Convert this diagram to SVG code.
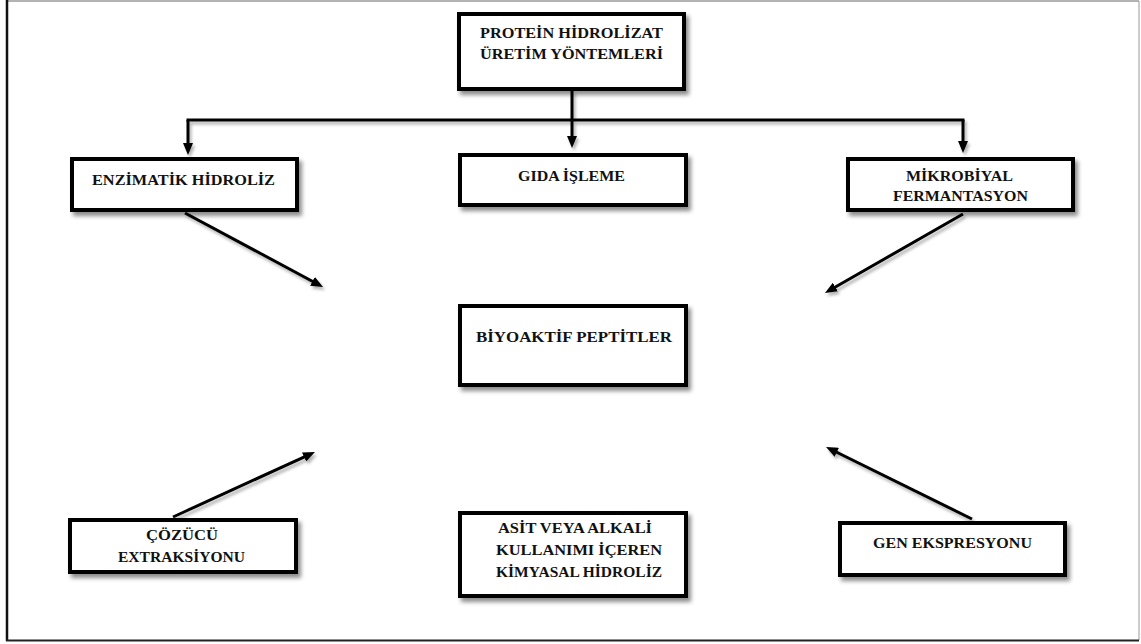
<svg xmlns="http://www.w3.org/2000/svg" width="1141" height="644" viewBox="0 0 1141 644">
<defs>
<filter id="sh" x="-10%" y="-20%" width="130%" height="160%">
<feDropShadow dx="3" dy="4" stdDeviation="2.2" flood-color="#000" flood-opacity="0.45"/>
</filter>
<filter id="lsh" x="-10%" y="-20%" width="130%" height="160%">
<feDropShadow dx="2" dy="3" stdDeviation="1.8" flood-color="#000" flood-opacity="0.3"/>
</filter>
<marker id="ah" viewBox="0 0 12 10" refX="4" refY="5" markerWidth="12" markerHeight="10" markerUnits="userSpaceOnUse" orient="auto">
<path d="M0,0 L12,5 L0,10 z" fill="#000"/>
</marker>
</defs>
<style>
.box{fill:#fff;stroke:#000;stroke-width:4;filter:url(#sh)}
.t{font-family:"Liberation Serif","Times New Roman",serif;font-weight:bold;font-size:15px;fill:#111;text-anchor:middle}
.c{fill:none;stroke:#000;stroke-width:3}
.a{marker-end:url(#ah)}
</style>
<rect width="1141" height="644" fill="#fff"/>
<g id="frame">
<line x1="7" y1="1" x2="1139" y2="1" stroke="#666" stroke-width="1"/>
<line x1="1139" y1="1" x2="1139" y2="640" stroke="#999" stroke-width="1"/>
<line x1="7" y1="0" x2="7" y2="641" stroke="#111" stroke-width="2.5"/>
<line x1="6" y1="640.5" x2="1139" y2="640.5" stroke="#222" stroke-width="2"/>
</g>
<g id="connectors" filter="url(#lsh)">
<path class="c" d="M572,91 V120"/>
<path class="c" d="M186.5,120 H964.5"/>
<path class="c a" d="M188,120 V147"/>
<path class="c a" d="M572,120 V140"/>
<path class="c a" d="M963,120 V145"/>
<path class="c a" d="M185,213 L316,283.2"/>
<path class="c a" d="M963,214 L831.9,289"/>
<path class="c a" d="M173,517 L307.7,455.3"/>
<path class="c a" d="M972,519 L833.2,450.5"/>
</g>
<g id="n-protein">
<rect class="box" x="459" y="14" width="225" height="75"/>
<text class="t" x="571.5" y="38" textLength="183" lengthAdjust="spacingAndGlyphs">PROTEİN HİDROLİZAT</text>
<text class="t" x="571.5" y="59" textLength="183" lengthAdjust="spacingAndGlyphs">ÜRETİM YÖNTEMLERİ</text>
</g>
<g id="n-enzimatik">
<rect class="box" x="72" y="159" width="225" height="51"/>
<text class="t" x="183.5" y="185" textLength="183" lengthAdjust="spacingAndGlyphs">ENZİMATİK HİDROLİZ</text>
</g>
<g id="n-gida">
<rect class="box" x="460" y="155" width="226" height="50"/>
<text class="t" x="571.5" y="181" textLength="107" lengthAdjust="spacingAndGlyphs">GIDA İŞLEME</text>
</g>
<g id="n-mikrobiyal">
<rect class="box" x="848" y="159" width="225" height="51"/>
<text class="t" x="959.5" y="181" textLength="107" lengthAdjust="spacingAndGlyphs">MİKROBİYAL</text>
<text class="t" x="960.5" y="201" textLength="135" lengthAdjust="spacingAndGlyphs">FERMANTASYON</text>
</g>
<g id="n-biyoaktif">
<rect class="box" x="460" y="306" width="226" height="79"/>
<text class="t" x="574" y="342" textLength="196" lengthAdjust="spacingAndGlyphs">BİYOAKTİF  PEPTİTLER</text>
</g>
<g id="n-cozucu">
<rect class="box" x="70" y="520" width="226" height="52"/>
<text class="t" x="182" y="540" textLength="72" lengthAdjust="spacingAndGlyphs">ÇÖZÜCÜ</text>
<text class="t" x="181.5" y="562" textLength="127" lengthAdjust="spacingAndGlyphs">EXTRAKSİYONU</text>
</g>
<g id="n-asit">
<rect class="box" x="460" y="513" width="226" height="83"/>
<text class="t" x="575" y="533" textLength="154" lengthAdjust="spacingAndGlyphs">ASİT VEYA ALKALİ</text>
<text class="t" x="579" y="555" textLength="166" lengthAdjust="spacingAndGlyphs">KULLANIMI İÇEREN</text>
<text class="t" x="579" y="577" textLength="166" lengthAdjust="spacingAndGlyphs">KİMYASAL HİDROLİZ</text>
</g>
<g id="n-gen">
<rect class="box" x="840" y="523" width="225" height="52"/>
<text class="t" x="952.5" y="548" textLength="159" lengthAdjust="spacingAndGlyphs">GEN EKSPRESYONU</text>
</g>
</svg>
